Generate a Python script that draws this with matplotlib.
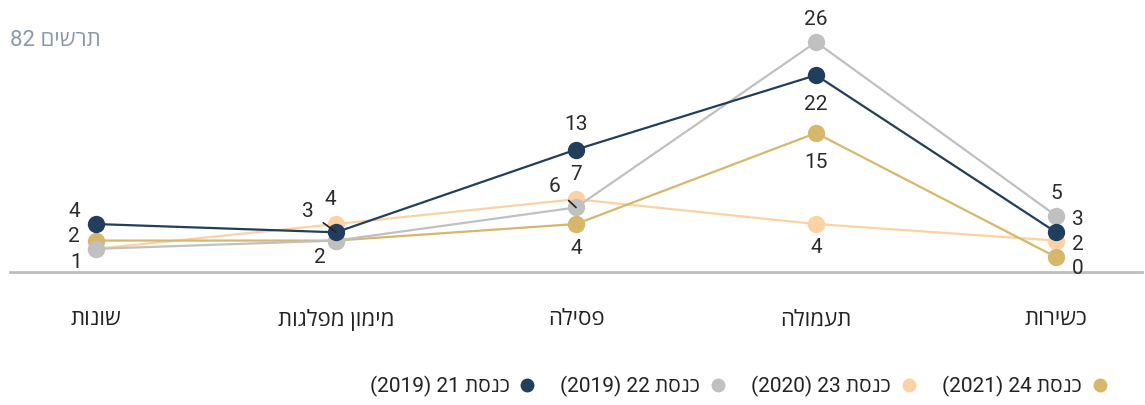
import matplotlib
matplotlib.use("Agg")
import matplotlib.pyplot as plt
from matplotlib.lines import Line2D
from matplotlib.transforms import blended_transform_factory

plt.rcParams['font.family'] = ['Roboto', 'Open Sans', 'DejaVu Sans']


def vis(s):
    """Visual (left-to-right) order for simple Hebrew RTL strings."""
    def is_heb(t):
        return any('\u0590' <= c <= '\u05FF' for c in t)
    toks = s.split(' ')
    out = []
    for t in reversed(toks):
        out.append(t[::-1] if is_heb(t) else t)
    return ' '.join(out)


# ---- data (logical RTL order: first category is right-most) ----
categories = ["כשירות", "תעמולה", "פסילה", "מימון מפלגות", "שונות"]
series_names = ["כנסת 21 (2019)", "כנסת 22 (2019)", "כנסת 23 (2020)", "כנסת 24 (2021)"]
k21 = [3, 22, 13, 3, 4]
k22 = [5, 26, 6, 2, 1]
k23 = [2, 4, 7, 4, 1]
k24 = [0, 15, 4, 2, 2]
title = "תרשים 82"

colors = {"k21": "#213f5d", "k22": "#c0c0c0", "k23": "#fcd2a4", "k24": "#d7b76c"}
series = [("k21", k21), ("k22", k22), ("k23", k23), ("k24", k24)]
zorders = {"k23": 2, "k24": 3, "k22": 4, "k21": 5}

W, H = 1145, 405
fig = plt.figure(figsize=(W / 100, H / 100), dpi=100)
ax_left, ax_right = 10, 1142
ax_top, ax_bot = 9, 272
ax = fig.add_axes([ax_left / W, (H - ax_bot) / H, (ax_right - ax_left) / W, (ax_bot - ax_top) / H])

x = list(range(len(categories)))
for key, vals in series:
    ax.plot(x, vals, color=colors[key], lw=1.6, marker='o', ms=12.5,
            markeredgewidth=0, zorder=zorders[key], solid_capstyle='round')

ax.set_xlim(4.358, -0.358)
ax.set_ylim(-1.8, 30)
for s in ['top', 'right', 'left']:
    ax.spines[s].set_visible(False)
ax.spines['bottom'].set_color('#bdbdbd')
ax.spines['bottom'].set_linewidth(2)
ax.set_yticks([])
ax.set_xticks([])

# category labels
trans = blended_transform_factory(ax.transData, ax.transAxes)
for i, c in enumerate(categories):
    ax.annotate(vis(c), xy=(i, 0), xycoords=trans, xytext=(0, -34.5),
                textcoords='offset points', ha='center', va='center',
                fontsize=16, color='#222222')

lab_color = '#2b2b2b'
fs = 15
PX = 72 / 100.0


def lab(vals, i, dx, dy, leader=False, ha='center'):
    ax.annotate(str(vals[i]), xy=(i, vals[i]), xytext=(dx * PX, dy * PX),
                textcoords='offset points', ha=ha, va='center', fontsize=fs,
                color=lab_color, zorder=10,
                arrowprops=dict(arrowstyle='-', color='#222222', lw=1.2,
                                shrinkA=6, shrinkB=0) if leader else None)


# כשירות (index 0)
lab(k22, 0, 0, 22)
lab(k21, 0, 22, 13)
lab(k23, 0, 22, -4)
lab(k24, 0, 22, -11)
# תעמולה (index 1)
lab(k22, 1, 0, 23)
lab(k21, 1, 0, -29)
lab(k24, 1, 0, -29)
lab(k23, 1, 0, -23)
# פסילה (index 2)
lab(k21, 2, 0, 25)
lab(k23, 2, 0, 25)
lab(k22, 2, -22, 21, leader=True)
lab(k24, 2, 0, -24)
# מימון מפלגות (index 3)
lab(k23, 3, -6, 25)
lab(k21, 3, -28, 21, leader=True)
lab(k22, 3, -16, -17)
# שונות (index 4)
lab(k21, 4, -22, 13)
lab(k24, 4, -22, 4)
lab(k22, 4, -20, -14)

# title
fig.text(10 / W, 1 - 40 / H, vis(title), ha='left', va='center', fontsize=16,
         color='#8a99a8')

# legend (RTL: marker on the right of the text)
handles = [Line2D([], [], ls='none', marker='o', ms=10, markeredgewidth=0,
                  color=colors[k]) for k, _ in series]
leg = fig.legend(handles, [vis(n) for n in series_names], ncol=4,
                 loc='center right', bbox_to_anchor=(1108 / W, 1 - 386 / H),
                 frameon=False, markerfirst=False, fontsize=15,
                 handlelength=0.8, handletextpad=0.45, columnspacing=1.2,
                 borderaxespad=0, borderpad=0)
for t in leg.get_texts():
    t.set_color('#222222')

fig.savefig('out.png', dpi=100)
